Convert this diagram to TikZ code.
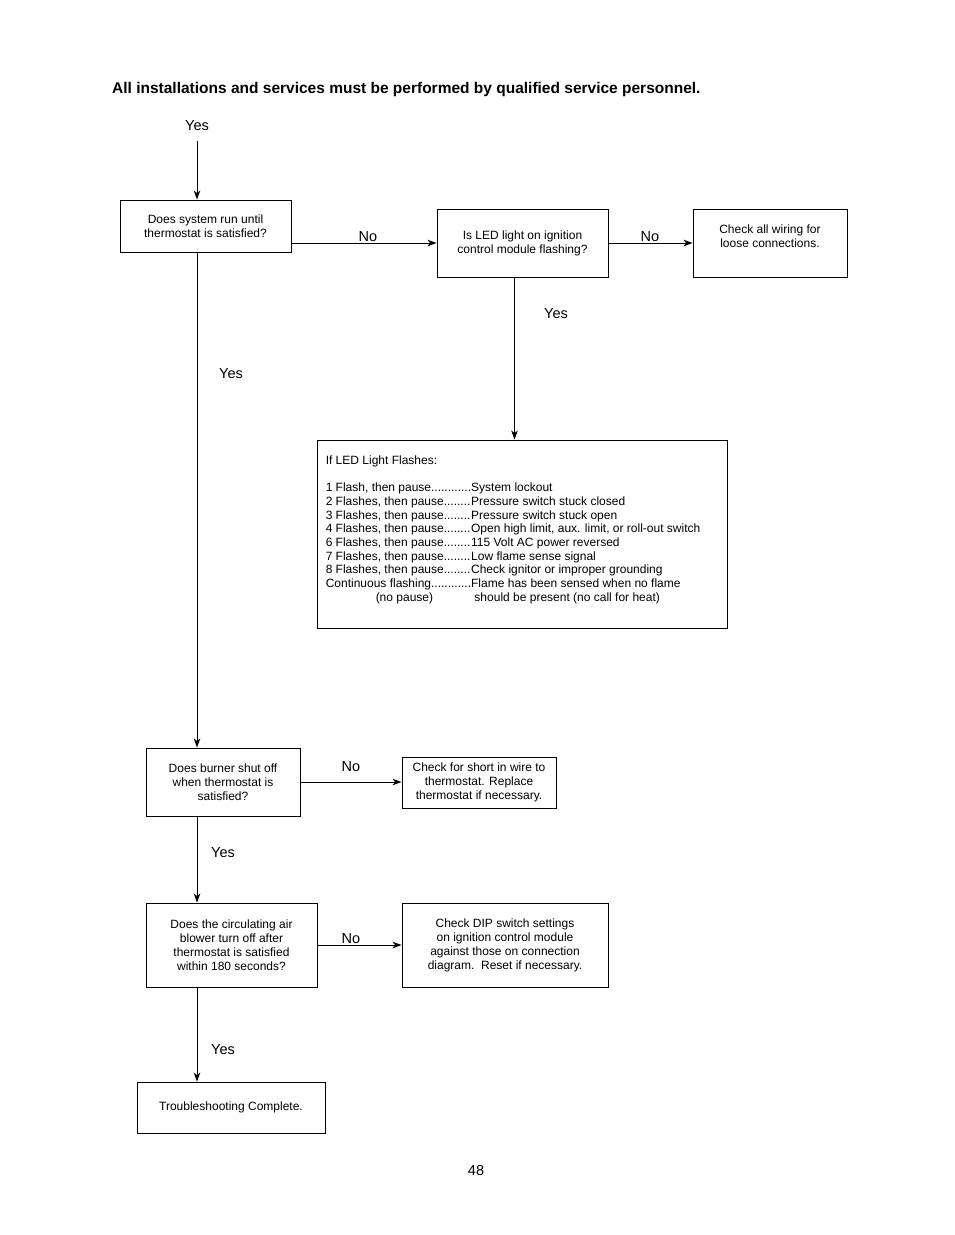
\documentclass[tikz,border=0pt]{standalone}
\usepackage{fontspec}
\setmainfont{Liberation Sans}
\usetikzlibrary{arrows.meta}
\begin{document}
\begin{tikzpicture}[x=1pt, y=-1pt,
  box/.style={draw=black, line width=0.9pt, rectangle, inner sep=0pt, align=center,
    font=\fontsize{12}{14}\selectfont},
  lbl/.style={font=\fontsize{14.5}{16}\selectfont, inner sep=0pt, yshift=-1.5pt},
  arr/.style={-{Stealth[length=9pt, width=6.5pt, inset=2.5pt]}, line width=0.9pt}]
\useasboundingbox (0,0) rectangle (954,1235);
\node[anchor=west, inner sep=0pt, font=\fontsize{15.5}{18}\selectfont\bfseries] (head) at (112,89.5)
  {All installations and services must be performed by qualified service personnel.};
\node[lbl] (yes0) at (197,124) {Yes};
\coordinate (start) at (197,141);
% boxes
\node[box, minimum width=171pt, minimum height=52pt] (b1) at (205.5,226) {Does system run until\\thermostat is satisfied?};
\node[box, minimum width=171pt, minimum height=68pt] (b2) at (522.5,243) {Is LED light on ignition\\control module flashing?};
\node[box, minimum width=154pt, minimum height=68pt] (b3) at (770,243) {Check all wiring for\\loose connections.\\~};
\node[box, minimum width=410pt, minimum height=188pt] (b4) at (522,534) {};
\node[anchor=north west, inner sep=0pt, font=\fontsize{12}{13.7}\selectfont] (flashes) at ([xshift=9pt, yshift=-15pt]b4.north west)
  {\begin{tabular}{@{}l@{}l@{}}
   If LED Light Flashes: & \\
   & \\
   1 Flash, then pause............ & System lockout\\
   2 Flashes, then pause........ & Pressure switch stuck closed\\
   3 Flashes, then pause........ & Pressure switch stuck open\\
   4 Flashes, then pause........ & Open high limit, aux. limit, or roll-out switch\\
   6 Flashes, then pause........ & 115 Volt AC power reversed\\
   7 Flashes, then pause........ & Low flame sense signal\\
   8 Flashes, then pause........ & Check ignitor or improper grounding\\
   Continuous flashing............ & Flame has been sensed when no flame\\
   \hspace*{50pt}(no pause) & \ should be present (no call for heat)
   \end{tabular}};
\node[box, minimum width=154pt, minimum height=68pt] (b5) at (223,782) {Does burner shut off\\when thermostat is\\satisfied?};
\node[box, minimum width=154pt, minimum height=51pt] (b6) at (479,782.5) {Check for short in wire to\\thermostat. Replace\\thermostat if necessary.};
\node[box, minimum width=171pt, minimum height=84pt] (b7) at (231.5,945) {Does the circulating air\\blower turn off after\\thermostat is satisfied\\within 180 seconds?};
\node[box, minimum width=206pt, minimum height=84pt] (b8) at (505,945) {Check DIP switch settings\\on ignition control module\\against those on connection\\diagram.\ \ Reset if necessary.};
\node[box, minimum width=188pt, minimum height=51pt] (b9) at (231,1107.5) {Troubleshooting Complete.};
% connectors
\draw[arr] (start) -- (start |- b1.north);
\draw[arr] (b1.east |- b2.west) -- (b2.west);
\draw[arr] (b2.east) -- (b3.west);
\draw[arr] ([xshift=-8pt]b2.south) -- ([xshift=-8pt]b2.south |- b4.north);
\draw[arr] (start |- b1.south) -- (start |- b5.north);
\draw[arr] (b5.east) -- (b5.east -| b6.west);
\draw[arr] (start |- b5.south) -- (start |- b7.north);
\draw[arr] (b7.east) -- (b8.west);
\draw[arr] (start |- b7.south) -- (start |- b9.north);
% labels
\node[lbl] (no1) at (368,235) {No};
\node[lbl] (no2) at (650,235) {No};
\node[lbl] (yes1) at (556,312) {Yes};
\node[lbl] (yes2) at (231,372) {Yes};
\node[lbl] (no3) at (351,765) {No};
\node[lbl] (yes3) at (223,851) {Yes};
\node[lbl] (no4) at (351,937) {No};
\node[lbl] (yes4) at (223,1048) {Yes};
\node[lbl] (page) at (476,1169) {48};
\end{tikzpicture}
\end{document}
